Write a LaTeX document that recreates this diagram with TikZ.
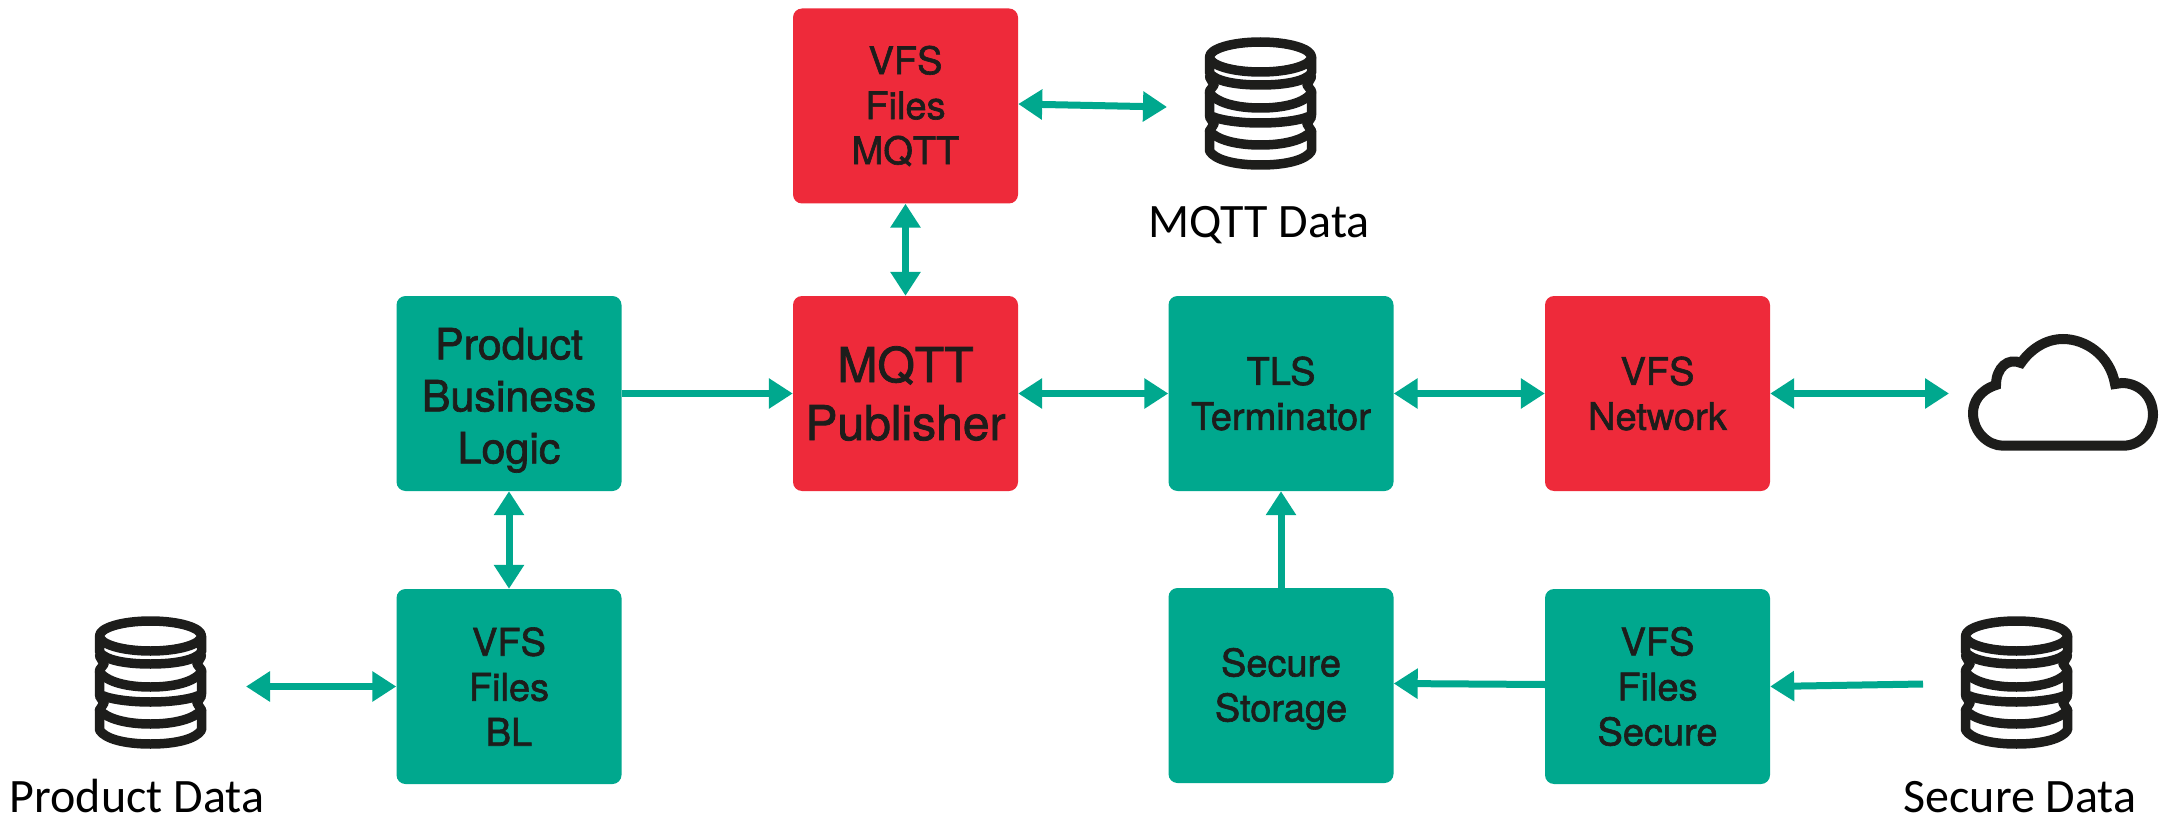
\documentclass[tikz,border=0pt]{standalone}
\usepackage{fontspec}
\setmainfont[FakeBold=1.6]{TeX Gyre Heros}
\newfontfamily\calib{Carlito}
\usetikzlibrary{arrows.meta,calc}
\definecolor{tealk}{HTML}{00A88E}
\definecolor{redk}{HTML}{EE2A3A}
\definecolor{inkk}{HTML}{1D1D1B}
\tikzset{
  x=1pt,y=-1pt,
  blockbox/.style={rectangle,rounded corners=9pt,minimum width=225pt,minimum height=195pt,inner sep=0pt,align=center,text=inkk,font=\fontsize{38}{45}\selectfont},
  tealbox/.style={blockbox,fill=tealk},
  redbox/.style={blockbox,fill=redk},
  biglabel/.style={font=\fontsize{43}{52}\selectfont},
  hugelabel/.style={font=\fontsize{48}{58}\selectfont},
  datalabel/.style={font=\calib\fontsize{48}{54}\selectfont,text=black,inner sep=0pt,anchor=base},
  link/.style={draw=tealk,line width=7pt,-{Triangle[length=24pt,width=29pt]}},
  biglink/.style={draw=tealk,line width=7pt,{Triangle[length=24pt,width=29pt]}-{Triangle[length=24pt,width=29pt]}},
  iconline/.style={draw=inkk,line width=9.5pt,line join=round,line cap=round},
  cloudline/.style={draw=inkk,line width=10pt,line join=miter},
  pics/dbicon/.style={code={
    \draw[iconline] (55.5,18) ellipse [x radius=51,y radius=15];
    \draw[iconline] (4.5,18) -- (4.5,34) .. controls (10,42) and (30,46) .. (55.5,46) .. controls (81,46) and (101,42) .. (106.5,34) -- (106.5,18);
    \draw[iconline] (4.5,38) -- (9,46) -- (4.5,52) -- (4.5,76) .. controls (10,80) and (30,84) .. (55.5,84) .. controls (81,84) and (101,80) .. (106.5,76) -- (106.5,52) -- (102,46) -- (106.5,38);
    \draw[iconline] (4.5,54) .. controls (12,64) and (32,69) .. (55.5,69) .. controls (79,69) and (99,64) .. (106.5,54);
    \draw[iconline] (4.5,78) -- (9,85) -- (4.5,92) -- (4.5,112) .. controls (10,121) and (30,126) .. (55.5,126) .. controls (81,126) and (101,121) .. (106.5,112) -- (106.5,92) -- (102,85) -- (106.5,78);
    \draw[iconline] (4.5,92) .. controls (12,101) and (32,106) .. (55.5,106) .. controls (79,106) and (99,101) .. (106.5,92);
  }},
}
\begin{document}
\begin{tikzpicture}
\useasboundingbox (0,0) rectangle (2169,821);
% boxes
\node[redbox]  (mfiles) at (905.5,106) {VFS\\Files\\MQTT};
\node[tealbox,biglabel] (logic) at (509,393.5) {\rule{0pt}{45pt}Product\\Business\\Logic};
\node[redbox,hugelabel] (pub) at (905.5,393.5) {MQTT\\Publisher};
\node[tealbox] (tls) at (1281,393.5) {TLS\\Terminator};
\node[redbox] (net) at (1657.5,393.5) {VFS\\Network};
\node[tealbox] (bl) at (509,686.5) {VFS\\Files\\BL};
\node[tealbox] (store) at (1281,685.5) {\rule{0pt}{35pt}Secure\\Storage};
\node[tealbox] (sec) at (1657.5,686.5) {VFS\\Files\\Secure};
% icons
\pic at (1205,39) {dbicon};
\pic at (95,618) {dbicon};
\pic at (1961,618) {dbicon};
\draw[cloudline] (2003,445.7) -- (2123,445.7)
  .. controls (2143,445.7) and (2153,428) .. (2153,415)
  .. controls (2153,395) and (2138,383) .. (2122,383)
  -- (2115,384)
  .. controls (2110,355) and (2085,339) .. (2063,339)
  .. controls (2045,339) and (2030,350) .. (2021,363)
  .. controls (2008,357) and (1996,368) .. (1996,385)
  .. controls (1980,390) and (1973,402) .. (1973,413)
  .. controls (1973,432) and (1988,445.7) .. (2003,445.7) -- cycle;
% labels
\node[datalabel] (lmqtt) at (1259,238) {MQTT Data};
\node[datalabel] (lprod) at (137,812) {Product Data};
\node[datalabel] (lsec) at (2020,812) {Secure Data};
% free ends
\coordinate (dbm) at (1167,107);
\coordinate (dbp) at (246,686.5);
\coordinate (dbs) at (1923,684);
\coordinate (cloudend) at (1949,393.5);
% connectors
\draw[biglink] ($(mfiles.east)+(0,-2)$) -- (dbm);
\draw[biglink] (mfiles.south) -- (pub.north);
\draw[link] (logic.east) -- (pub.west);
\draw[biglink] (pub.east) -- (tls.west);
\draw[biglink] (tls.east) -- (net.west);
\draw[biglink] (net.east) -- (cloudend);
\draw[biglink] (logic.south) -- (bl.north);
\draw[biglink] (dbp) -- (bl.west);
\draw[link] (store.north) -- (tls.south);
\draw[link] ($(sec.west)+(0,-2)$) -- ($(store.east)+(0,-2)$);
\draw[link] (dbs) -- (sec.east);
\end{tikzpicture}
\end{document}
